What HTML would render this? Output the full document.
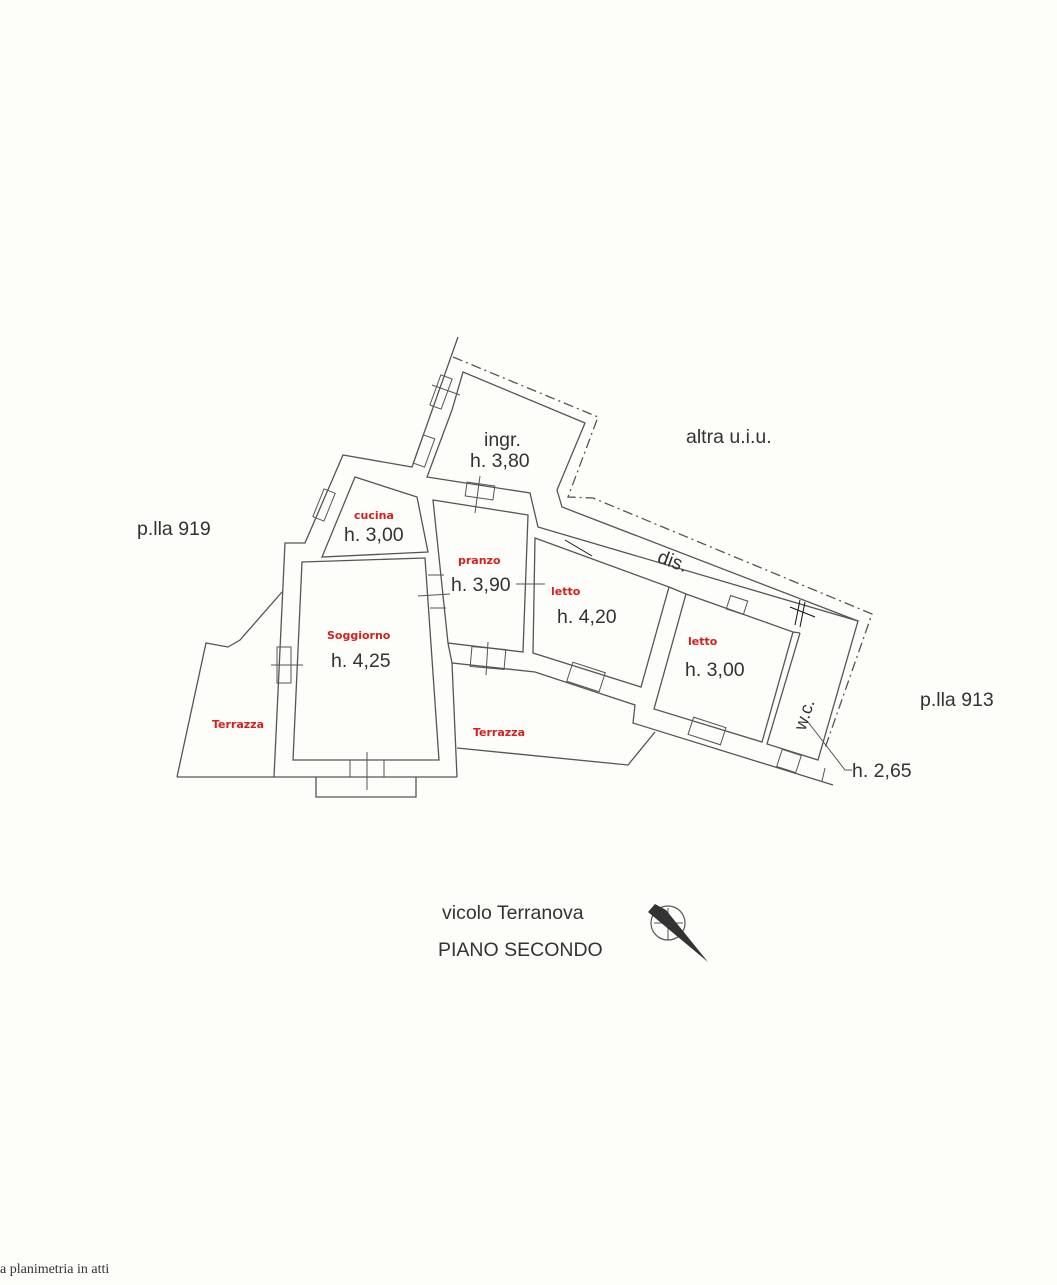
<!DOCTYPE html>
<html><head><meta charset="utf-8"><style>
html,body{margin:0;padding:0;background:#fdfdfa;}
svg{display:block}
</style></head><body>
<svg width="1057" height="1285" viewBox="0 0 1057 1285" xmlns="http://www.w3.org/2000/svg" font-family="'Liberation Sans', sans-serif">
<rect width="1057" height="1285" fill="#fdfdfa"/>
<g fill="none" stroke="#555" stroke-width="1.3">
<polyline points="453,357 598,417 568,497 593,498 872,614 825,748" stroke-dasharray="10,4,2,4"/>
<polyline points="458,337 412,467 343,455 305,543 285,543 274,777"/>
<line x1="177" y1="777" x2="457" y2="777"/>
<polyline points="457,777 452,663 535,672 635,705 633,723 833,785"/>
<polyline points="557,490 585,423 463,372 452,410 427,477 530,493 538,527 858,621 818,760 767,744 800,633"/>
<polyline points="557,490 562,507 858,621"/>
<polygon points="355,477 417,497 428,552 322,557"/>
<polygon points="302,562 425,558 439,760 293,760"/>
<polygon points="433,500 528,515 523,652 448,643"/>
<line x1="448" y1="643" x2="452" y2="663"/>
<polygon points="535,538 669,587 641,687 533,653"/>
<line x1="669" y1="587" x2="686" y2="594"/>
<polygon points="686,594 793,632 762,742 654,709"/>
<line x1="793" y1="632" x2="800" y2="633"/>
<polyline points="177,777 206,643 228,647 240,640 282,592"/>
<polyline points="457,748 628,765 655,732"/>
<polyline points="316,777 316,797 416,797 416,777"/>
<g stroke-width="1">
<rect x="435" y="376" width="12" height="32" transform="rotate(20 441 392)"/>
<line x1="432" y1="385" x2="460" y2="395"/>
<rect x="418" y="436" width="12" height="30" transform="rotate(20 424 451)"/>
<rect x="318" y="490" width="12" height="30" transform="rotate(22 324 505)"/>
<rect x="466" y="484" width="28" height="14" transform="rotate(8 480 491)"/>
<line x1="480" y1="476" x2="475" y2="513"/>
<rect x="277" y="647" width="14" height="36"/>
<line x1="271" y1="665" x2="303" y2="665"/>
<rect x="350" y="760" width="34" height="17"/>
<line x1="367" y1="752" x2="367" y2="790"/>
<rect x="471" y="648" width="34" height="20" transform="rotate(5 488 658)"/>
<line x1="488" y1="642" x2="486" y2="675"/>
<rect x="569" y="667" width="34" height="20" transform="rotate(18 586 677)"/>
<rect x="690" y="722" width="34" height="18" transform="rotate(18 707 731)"/>
<rect x="779" y="752" width="20" height="18" transform="rotate(18 789 761)"/>
<rect x="728" y="598" width="18" height="14" transform="rotate(18 737 605)"/>
<line x1="428" y1="575" x2="444" y2="575"/>
<line x1="418" y1="596" x2="450" y2="594"/>
<line x1="430" y1="608" x2="446" y2="608"/>
<line x1="516" y1="584" x2="545" y2="584"/>
<line x1="565" y1="540" x2="592" y2="556" stroke="#111"/>
<line x1="790" y1="607" x2="815" y2="617" stroke="#111"/>
<line x1="800" y1="600" x2="795" y2="625" stroke="#111"/>
<line x1="805" y1="602" x2="800" y2="627" stroke="#111"/>
<polyline points="808,722 845,770 852,770"/>
<line x1="825" y1="768" x2="822" y2="781"/>
</g>
</g>
<circle cx="668" cy="923" r="17" fill="none" stroke="#555" stroke-width="1.2"/>
<line x1="654" y1="923" x2="683" y2="923" stroke="#555"/>
<line x1="668" y1="908" x2="668" y2="940" stroke="#555"/>
<polygon points="648,912 655,904 666,910 708,962 660,922" fill="#333"/>
<g fill="#333" font-size="19.5">
<text x="137" y="535">p.lla 919</text>
<text x="686" y="443">altra u.i.u.</text>
<text x="920" y="706">p.lla 913</text>
<text x="484" y="446">ingr.</text>
<text x="470" y="467">h. 3,80</text>
<text x="344" y="541">h. 3,00</text>
<text x="451" y="591">h. 3,90</text>
<text x="557" y="623">h. 4,20</text>
<text x="331" y="667">h. 4,25</text>
<text x="685" y="676">h. 3,00</text>
<text x="852" y="777">h. 2,65</text>
<text x="657" y="566" transform="rotate(20 668 562)">dis.</text>
<text x="789" y="727" font-size="18" transform="rotate(-72 800 718)">w.c.</text>
<text x="442" y="919">vicolo Terranova</text>
<text x="438" y="956">PIANO SECONDO</text>
</g>
<g fill="#d42020" font-size="11" font-weight="bold" font-family="'DejaVu Sans', sans-serif">
<text x="354" y="519">cucina</text>
<text x="458" y="564">pranzo</text>
<text x="551" y="595">letto</text>
<text x="688" y="645">letto</text>
<text x="327" y="639">Soggiorno</text>
<text x="212" y="728">Terrazza</text>
<text x="473" y="736">Terrazza</text>
</g>
<text x="0" y="1273" font-family="'Liberation Serif', serif" font-size="14" fill="#333">a planimetria in atti</text>
</svg>
</body></html>
